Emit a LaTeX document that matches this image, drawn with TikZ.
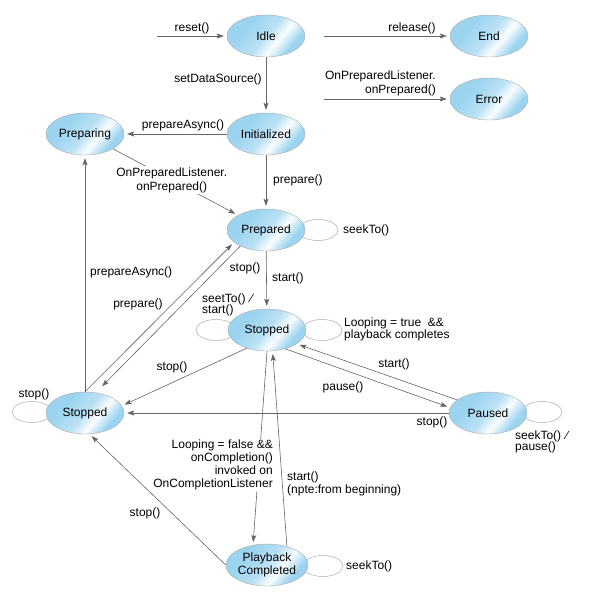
\documentclass[tikz,border=0pt]{standalone}
\usepackage{fontspec}
\setmainfont{Liberation Sans}
\usetikzlibrary{shapes.geometric,arrows.meta}
\definecolor{stateBlue}{RGB}{156,212,240}
\colorlet{stateMid}{stateBlue!70!white}
\colorlet{stateLight}{stateBlue!5!white}
\definecolor{lineGray}{RGB}{100,100,100}
\definecolor{loopGray}{RGB}{170,170,170}
\pgfdeclarehorizontalshading{stateShade}{100bp}{color(0bp)=(stateBlue); color(34bp)=(stateBlue); color(50bp)=(stateMid); color(60bp)=(stateLight); color(71bp)=(stateBlue); color(100bp)=(stateBlue)}
\tikzstyle{stateNode}=[shape = ellipse, minimum width = 78pt, minimum height = 42pt, inner sep = 0pt, draw = loopGray, line width = 0.4pt, shading = stateShade, shading angle = -40, align = center]
\tikzstyle{loopNode}=[shape = ellipse, minimum width = 40pt, minimum height = 21pt, inner sep = 0pt, draw = loopGray, line width = 0.5pt]

\begin{document}
\begin{tikzpicture}[x = 1pt, y = -1pt, font = \fontsize{12}{13}\selectfont]
\tikzstyle{edgeStyle}=[draw = lineGray, line width = 0.6pt, -{Stealth[length = 7pt, width = 5pt, inset = 1.5pt]}, shorten > = 3pt]
\tikzstyle{labelStyle}=[inner sep = 1pt, text = black]
\tikzstyle{cutLabel}=[inner sep = 1pt, text = black, fill = white]
\useasboundingbox (0, 0) rectangle (590, 600);
\node[loopNode] (l0) at (318, 230) {};
\node[loopNode] (l1) at (216, 330) {};
\node[loopNode] (l2) at (322, 330) {};
\node[loopNode] (l3) at (32, 412) {};
\node[loopNode] (l4) at (542, 412) {};
\node[loopNode] (l5) at (323, 566) {};
\node[stateNode] (v0) at (266, 36) {Idle};
\node[stateNode] (v1) at (489, 36) {End};
\node[stateNode] (v2) at (489, 99) {Error};
\node[stateNode] (v3) at (266, 134) {Initialized};
\node[stateNode] (v4) at (85, 134) {Preparing};
\node[stateNode] (v5) at (266, 230) {Prepared};
\node[stateNode] (v6) at (267, 330) {Stopped};
\node[stateNode] (v7) at (85, 413) {Stopped};
\node[stateNode] (v8) at (488, 413) {Paused};
\node[stateNode] (v9) at (267, 565) {Playback\\Completed};
\coordinate (c0) at (157, 36);
\coordinate (c1) at (324, 36);
\coordinate (c2) at (324, 99);
\draw[edgeStyle] (c0) -- (v0);
\draw[edgeStyle] (c1) -- (v1);
\draw[edgeStyle] (c2) -- (v2);
\draw[edgeStyle] (v0) -- (v3);
\draw[edgeStyle] (v3) -- (v4);
\draw[edgeStyle] (v4) -- (v5) node[cutLabel, align = center, pos = 0.47] {OnPreparedListener.\\[1pt]onPrepared()};
\draw[edgeStyle] (v3) -- (v5);
\draw[edgeStyle] (v5) -- (v6);
\draw[edgeStyle] (v7.north) -- (v4);
\draw[edgeStyle] (v7.north) -- (v5.201);
\draw[edgeStyle, shorten > = 9pt] (v5.212) -- (v7.62);
\draw[edgeStyle] (v6.222) -- (v7.11);
\draw[edgeStyle] (v6.-46) -- (v8.172);
\draw[edgeStyle] (v8.157) -- (v6.-25);
\draw[edgeStyle] (v8) -- (v7);
\draw[edgeStyle] (v6.south) -- (v9.125);
\draw[edgeStyle] (v9.43) -- (v6.-75);
\draw[edgeStyle] (v9.west) -- (v7.-78);
\node[labelStyle] (t0) at (192, 28) {reset()};
\node[labelStyle] (t1) at (412, 28) {release()};
\node[labelStyle, anchor = east, align = right] (t2) at (437, 83) {OnPreparedListener.\\[1pt]onPrepared()};
\node[labelStyle] (t3) at (218, 79) {setDataSource()};
\node[labelStyle] (t4) at (183, 125) {prepareAsync()};
\node[labelStyle, anchor = west] (t5) at (272, 180) {prepare()};
\node[labelStyle, anchor = west] (t6) at (342, 230) {seekTo()};
\node[labelStyle] (t7) at (245, 268) {stop()};
\node[labelStyle, anchor = west] (t8) at (271, 278) {start()};
\node[labelStyle, anchor = west, align = left] (t9) at (201, 305) {seetTo()\hspace{5pt}⁄\\[-2pt]start()};
\node[labelStyle, anchor = west] (t10) at (89, 272) {prepareAsync()};
\node[labelStyle] (t11) at (138, 304) {prepare()};
\node[labelStyle, anchor = west, align = left] (t12) at (343, 329) {Looping = true\ \ \&\&\\[-1pt]playback completes};
\node[labelStyle] (t13) at (394, 364) {start()};
\node[labelStyle] (t14) at (343, 387) {pause()};
\node[labelStyle] (t15) at (172, 367) {stop()};
\node[labelStyle] (t16) at (34, 394) {stop()};
\node[labelStyle] (t17) at (432, 422) {stop()};
\node[labelStyle, anchor = west, align = left] (t18) at (514, 442) {seekTo()\hspace{5pt}⁄\\[-2pt]pause()};
\node[cutLabel, anchor = east, align = right] (t19) at (274, 465) {Looping = false \&\&\\onCompletion()\\invoked on\\OnCompletionListener};
\node[labelStyle, anchor = west, align = left] (t20) at (286, 484) {start()\\(npte:from beginning)};
\node[labelStyle] (t21) at (145, 513) {stop()};
\node[labelStyle, anchor = west] (t22) at (345, 566) {seekTo()};
\end{tikzpicture}
\end{document}
